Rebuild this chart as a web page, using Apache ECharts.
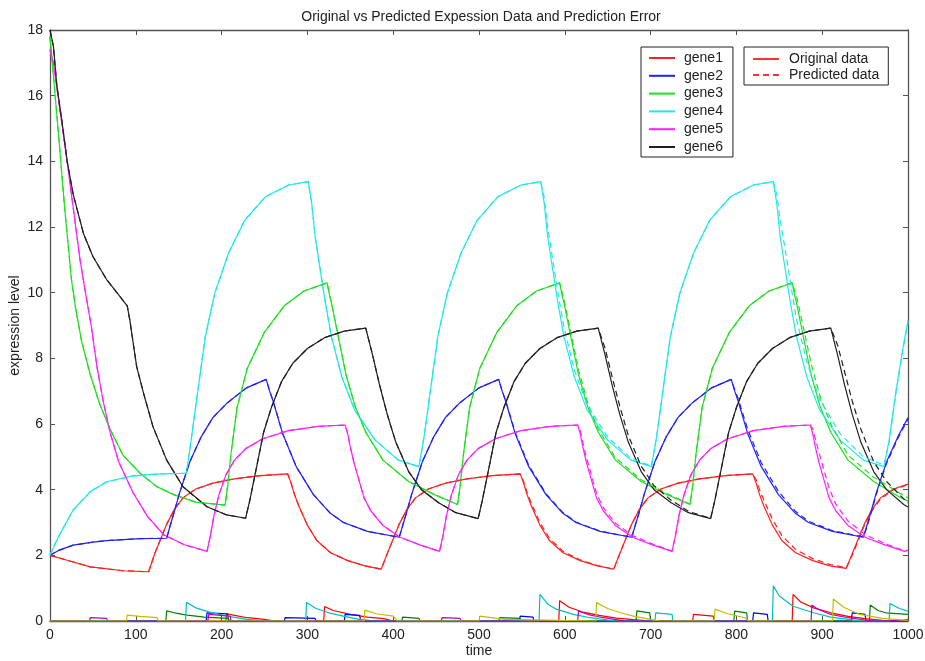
<!DOCTYPE html>
<html>
<head>
<meta charset="utf-8">
<script src="https://cdn.jsdelivr.net/npm/echarts@6/dist/echarts.min.js"></script>
<style>
html,body{margin:0;padding:0;background:#fff;}
#chart{width:925px;height:661px;}
</style>
</head>
<body>
<div id="chart"></div>
<script>
// ---------- data ----------
const xTicks = [0,100,200,300,400,500,600,700,800,900,1000];
const yTicks = [0,2,4,6,8,10,12,14,16,18];
const geneNames = ['gene1','gene2','gene3','gene4','gene5','gene6'];

// gene1 (red)
const g1T = [0,20,47,85,115, 122,129,136,145,155,170,190,215,245,277, 281,285,290,300,311,327,347,367,386, 393,400,407,416,426,441,461,486,516,548, 552,556,561,571,582,598,618,638,657, 664,671,678,687,697,712,732,757,787,819, 823,827,832,842,853,869,889,909,928, 935,942,949,958,968,983,1000];
const g1Orig = [2.0,1.85,1.65,1.53,1.5, 2.05,2.5,2.95,3.4,3.75,4.02,4.2,4.33,4.43,4.48, 4.2,3.85,3.5,2.92,2.45,2.08,1.84,1.68,1.58, 2.05,2.5,2.95,3.4,3.75,4.02,4.2,4.33,4.43,4.48, 4.2,3.85,3.5,2.92,2.45,2.08,1.84,1.68,1.58, 2.05,2.5,2.95,3.4,3.75,4.02,4.2,4.33,4.43,4.48, 4.2,3.85,3.5,2.92,2.45,2.08,1.84,1.68,1.6, 2.05,2.5,2.95,3.4,3.75,4.02,4.17];
const g1Pred = [2.0,1.85,1.65,1.53,1.5, 2.05,2.5,2.95,3.4,3.75,4.02,4.2,4.33,4.43,4.48, 4.2,3.85,3.5,2.92,2.45,2.08,1.84,1.68,1.58, 2.05,2.5,2.95,3.4,3.75,4.02,4.2,4.33,4.43,4.48, 4.25,3.92,3.58,3.0,2.52,2.12,1.86,1.69,1.58, 2.05,2.5,2.95,3.4,3.75,4.02,4.2,4.33,4.43,4.48, 4.3,4.0,3.68,3.1,2.6,2.18,1.9,1.72,1.62, 2.0,2.45,2.9,3.35,3.72,4.0,4.15];

// gene2 (blue)
const g2T = [0,10,27,50,66,105,136, 140,144,151,163,176,190,206,229,252, 256,260,271,287,307,326,342,370,407, 411,415,422,434,447,461,477,500,523, 527,531,542,558,578,597,613,641,678, 682,686,693,705,718,732,748,771,794, 798,802,813,829,849,868,884,912,948, 952,956,963,975,988,1000];
const g2Orig = [2.0,2.15,2.31,2.4,2.45,2.51,2.52, 2.9,3.25,3.9,4.85,5.6,6.2,6.63,7.1,7.36, 7.0,6.7,5.72,4.7,3.85,3.3,3.0,2.73,2.55, 2.9,3.25,3.9,4.85,5.6,6.2,6.63,7.1,7.36, 7.0,6.7,5.72,4.7,3.85,3.3,3.0,2.73,2.55, 2.9,3.25,3.9,4.85,5.6,6.2,6.63,7.1,7.36, 7.0,6.7,5.72,4.7,3.85,3.3,3.0,2.73,2.55, 2.9,3.25,3.9,4.85,5.6,6.2];
const g2Pred = [2.0,2.15,2.31,2.4,2.45,2.51,2.52, 2.9,3.25,3.9,4.85,5.6,6.2,6.63,7.1,7.36, 7.0,6.7,5.72,4.7,3.85,3.3,3.0,2.73,2.55, 2.9,3.25,3.9,4.85,5.6,6.2,6.63,7.1,7.36, 7.0,6.72,5.76,4.74,3.88,3.32,3.01,2.74,2.55, 2.9,3.25,3.9,4.85,5.6,6.2,6.63,7.1,7.36, 7.05,6.78,5.85,4.82,3.95,3.36,3.04,2.75,2.56, 2.85,3.2,3.85,4.8,5.55,6.15];

// gene3 (green)
const g3T = [0,5,10,17,25,30,37,47,58,70,85,105,124,144,170,204, 207,211,218,230,250,273,296,323, 326,328,336,345,356,368,388,418,448,475, 478,482,489,501,521,544,567,594, 597,599,607,616,627,639,659,689,719,746, 749,753,760,772,792,815,838,865, 868,870,878,887,898,910,930,960,990,1000];
const g3Orig = [17.8,16.3,14.8,12.6,10.4,9.5,8.5,7.5,6.6,5.85,5.05,4.5,4.1,3.85,3.62,3.53, 4.1,5.1,6.5,7.7,8.8,9.6,10.05,10.3, 9.9,9.7,8.66,7.5,6.5,5.75,4.9,4.25,3.85,3.55, 4.1,5.1,6.5,7.7,8.8,9.6,10.05,10.3, 9.9,9.7,8.66,7.5,6.5,5.75,4.9,4.25,3.85,3.55, 4.1,5.1,6.5,7.7,8.8,9.6,10.05,10.3, 9.9,9.7,8.66,7.5,6.5,5.75,4.9,4.25,3.78,3.65];
const g3Pred = [17.8,16.3,14.8,12.6,10.4,9.5,8.5,7.5,6.6,5.85,5.05,4.5,4.1,3.85,3.62,3.53, 4.1,5.1,6.5,7.7,8.8,9.6,10.05,10.3, 9.9,9.7,8.66,7.5,6.5,5.75,4.9,4.25,3.85,3.55, 4.1,5.1,6.5,7.7,8.8,9.6,10.05,10.3, 10.0,9.8,8.8,7.65,6.62,5.85,4.97,4.3,3.88,3.56, 4.1,5.1,6.5,7.7,8.8,9.6,10.05,10.3, 10.05,9.9,8.95,7.85,6.8,6.0,5.05,4.38,3.9,3.75];

// gene4 (cyan)
const g4T = [0,6,12,27,47,66,97,128,159, 165,173,181,192,208,227,251,278,301, 305,309,315,321,328,340,355,379,406,430, 436,444,452,463,479,498,522,549,572, 576,580,586,592,599,611,626,650,677,701, 707,715,723,734,750,769,793,820,843, 847,851,857,863,870,882,897,921,948,972, 978,986,994,1000];
const g4Orig = [2.0,2.35,2.67,3.38,3.94,4.24,4.42,4.48,4.5, 5.61,7.14,8.66,9.98,11.2,12.21,12.92,13.28,13.38, 12.73,11.71,10.69,9.68,8.66,7.44,6.43,5.51,4.9,4.7, 5.61,7.14,8.66,9.98,11.2,12.21,12.92,13.28,13.38, 12.73,11.71,10.69,9.68,8.66,7.44,6.43,5.51,4.9,4.7, 5.61,7.14,8.66,9.98,11.2,12.21,12.92,13.28,13.38, 12.73,11.71,10.69,9.68,8.66,7.44,6.43,5.51,4.9,4.7, 5.5,7.0,8.3,9.15];
const g4Pred = [2.0,2.35,2.67,3.38,3.94,4.24,4.42,4.48,4.5, 5.61,7.14,8.66,9.98,11.2,12.21,12.92,13.28,13.38, 12.73,11.71,10.69,9.68,8.66,7.44,6.43,5.51,4.9,4.7, 5.61,7.14,8.66,9.98,11.2,12.21,12.92,13.28,13.38, 12.9,12.0,11.0,10.0,8.95,7.65,6.58,5.6,4.95,4.72, 5.61,7.14,8.66,9.98,11.2,12.21,12.92,13.28,13.38, 13.0,12.2,11.3,10.3,9.2,7.9,6.75,5.7,5.0,4.75, 5.45,6.95,8.25,9.1];

// gene5 (magenta)
const g5T = [0,4,12,20,27,35,42,48,55,62,70,80,97,114,133,156,183, 187,191,197,205,215,228,248,278,313,344, 347,350,354,360,366,374,388,408,431,454, 458,462,468,476,486,499,519,549,584,615, 618,621,625,631,637,645,659,679,702,725, 729,733,739,747,757,770,790,820,855,886, 889,892,896,902,908,916,930,950,973,996, 1000];
const g5Orig = [17.4,17.0,15.5,14.0,12.6,11.0,9.9,9.0,7.7,6.7,5.75,4.85,3.9,3.17,2.62,2.33,2.12, 2.6,3.2,3.85,4.45,4.9,5.25,5.55,5.8,5.93,5.97, 5.7,5.3,4.85,4.3,3.75,3.35,2.91,2.55,2.32,2.12, 2.6,3.2,3.85,4.45,4.9,5.25,5.55,5.8,5.93,5.97, 5.7,5.3,4.85,4.3,3.75,3.35,2.91,2.55,2.32,2.12, 2.6,3.2,3.85,4.45,4.9,5.25,5.55,5.8,5.93,5.97, 5.7,5.3,4.85,4.3,3.75,3.35,2.91,2.55,2.32,2.12, 2.15];
const g5Pred = [17.4,17.0,15.5,14.0,12.6,11.0,9.9,9.0,7.7,6.7,5.75,4.85,3.9,3.17,2.62,2.33,2.12, 2.6,3.2,3.85,4.45,4.9,5.25,5.55,5.8,5.93,5.97, 5.7,5.3,4.85,4.3,3.75,3.35,2.91,2.55,2.32,2.12, 2.6,3.2,3.85,4.45,4.9,5.25,5.55,5.8,5.93,5.97, 5.8,5.45,5.0,4.45,3.88,3.45,2.98,2.6,2.35,2.13, 2.6,3.2,3.85,4.45,4.9,5.25,5.55,5.8,5.93,5.97, 5.85,5.55,5.15,4.6,4.05,3.55,3.05,2.63,2.36,2.14, 2.16];

// gene6 (black)
const g6T = [0,4,8,14,20,27,39,50,66,78,90,93,101,109,120,136,155,183,206,228, 233,241,249,258,270,283,300,320,343,368, 376,384,393,403,418,433,453,473,499, 504,512,520,529,541,554,571,591,614,639, 647,655,664,674,689,704,724,744,770, 775,783,791,800,812,825,842,862,885,910, 918,926,935,945,960,975,995,1000];
const g6Orig = [18.0,17.5,16.3,15.2,14.0,13.0,11.8,11.1,10.4,10.0,9.6,9.17,7.75,6.94,5.92,4.9,4.09,3.48,3.23,3.13, 3.69,4.72,5.75,6.5,7.3,7.85,8.3,8.63,8.83,8.92, 8.1,7.2,6.3,5.45,4.55,4.0,3.6,3.3,3.12, 3.69,4.72,5.75,6.5,7.3,7.85,8.3,8.63,8.83,8.92, 8.1,7.2,6.3,5.45,4.55,4.0,3.6,3.3,3.12, 3.69,4.72,5.75,6.5,7.3,7.85,8.3,8.63,8.83,8.92, 8.1,7.2,6.3,5.45,4.55,4.0,3.55,3.47];
const g6Pred = [18.0,17.5,16.3,15.2,14.0,13.0,11.8,11.1,10.4,10.0,9.6,9.17,7.75,6.94,5.92,4.9,4.09,3.48,3.23,3.13, 3.69,4.72,5.75,6.5,7.3,7.85,8.3,8.63,8.83,8.92, 8.1,7.2,6.3,5.45,4.55,4.0,3.6,3.3,3.12, 3.69,4.72,5.75,6.5,7.3,7.85,8.3,8.63,8.83,8.92, 8.3,7.45,6.55,5.65,4.72,4.12,3.68,3.34,3.13, 3.69,4.72,5.75,6.5,7.3,7.85,8.3,8.63,8.83,8.92, 8.4,7.6,6.7,5.85,4.85,4.25,3.72,3.6];

// prediction error curves (bottom of the plot)
const err1 = [[0,0],[205,0],[206,0.22],[215,0.17],[230,0.1],[250,0.05],[262,0],[319,0],[320,0.44],[330,0.32],[350,0.2],[370,0.12],[389,0.07],[400,0],[593,0],[594,0.62],[605,0.42],[620,0.28],[640,0.17],[660,0.09],[680,0.04],[700,0],[749,0],[750,0.2],[773,0.15],[774,0],[865,0],[866,0.81],[875,0.58],[890,0.4],[910,0.25],[930,0.14],[950,0.07],[970,0.02],[1000,0]];
const err2 = [[0,0],[182,0],[183,0.25],[207,0.22],[208,0],[273,0],[274,0.1],[309,0.08],[310,0],[343,0],[344,0.2],[361,0.17],[362,0],[547,0],[548,0.15],[563,0.12],[564,0],[819,0],[820,0.25],[836,0.2],[837,0],[934,0],[935,0.25],[950,0.2],[951,0],[1000,0]];
const err3 = [[0,0],[135,0],[136,0.31],[145,0.25],[160,0.18],[180,0.12],[208,0.08],[209,0],[410,0],[411,0.12],[430,0.08],[431,0],[523,0],[524,0.1],[548,0.08],[549,0],[683,0],[684,0.31],[699,0.25],[700,0],[797,0],[798,0.3],[812,0.25],[813,0],[955,0],[956,0.49],[965,0.32],[974,0.25],[1000,0.2]];
const err4 = [[0,0],[158,0],[159,0.57],[170,0.4],[185,0.28],[206,0.15],[230,0.05],[250,0],[298,0],[299,0.56],[310,0.38],[325,0.25],[342,0.15],[360,0.05],[380,0],[570,0],[571,0.81],[580,0.52],[590,0.36],[610,0.2],[630,0.1],[650,0.03],[660,0],[705,0],[706,0.25],[725,0.2],[726,0],[842,0],[843,1.07],[850,0.76],[866,0.45],[890,0.25],[910,0.12],[930,0.05],[945,0],[978,0],[979,0.53],[990,0.38],[1000,0.3]];
const err5 = [[0,0],[46,0],[47,0.1],[66,0.08],[67,0],[184,0],[185,0.2],[210,0.15],[211,0],[456,0],[457,0.1],[478,0.08],[479,0],[615,0],[616,0.3],[630,0.18],[645,0.1],[660,0.04],[670,0],[887,0],[888,0.49],[895,0.36],[910,0.2],[930,0.1],[950,0.03],[960,0],[990,0],[991,0.05],[1000,0.05]];
const err6 = [[0,0],[89,0],[90,0.18],[105,0.14],[125,0.1],[126,0],[366,0],[367,0.33],[380,0.22],[400,0.15],[405,0],[500,0],[501,0.15],[530,0.05],[531,0],[636,0],[637,0.56],[650,0.38],[665,0.25],[680,0.15],[700,0.05],[710,0],[774,0],[775,0.36],[790,0.22],[810,0.1],[815,0],[912,0],[913,0.67],[925,0.42],[944,0.2],[970,0.08],[1000,0.02]];

// ---------- styling ----------
const geneColors = ['#ff2020','#2020ff','#20e020','#20e8e8','#ff20ff','#202020'];
const errColors = ['#ff0000','#0000ff','#008000','#00bfbf','#bf00bf','#bfbf00'];
const FONT = "'Liberation Sans', Arial, sans-serif";

function zip(T, V){ return T.map((t,i)=>[t, V[i]]); }

const geneT = [g1T,g2T,g3T,g4T,g5T,g6T];
const geneO = [g1Orig,g2Orig,g3Orig,g4Orig,g5Orig,g6Orig];
const geneP = [g1Pred,g2Pred,g3Pred,g4Pred,g5Pred,g6Pred];
const errs = [err1,err2,err3,err4,err5,err6];

const series = [];
for (let i=0;i<6;i++){
  series.push({type:'line', name:geneNames[i], data:zip(geneT[i],geneO[i]), symbol:'none',
    lineStyle:{color:geneColors[i], width:1.2}, itemStyle:{color:geneColors[i]}, z:2});
}
for (let i=0;i<6;i++){
  series.push({type:'line', name:geneNames[i]+' predicted', data:zip(geneT[i],geneP[i]), symbol:'none',
    lineStyle:{color:geneColors[i], width:1.2, type:[6,4]}, itemStyle:{color:geneColors[i]}, z:3});
}
for (let i=0;i<6;i++){
  series.push({type:'line', name:'error'+(i+1), data:errs[i], symbol:'none',
    lineStyle:{color:errColors[i], width:1.2}, itemStyle:{color:errColors[i]}, z:4});
}
series.push({type:'line', name:'Original data', data:[], symbol:'none', lineStyle:{color:'#ff3030', width:1.2}, itemStyle:{color:'#ff3030'}});
series.push({type:'line', name:'Predicted data', data:[], symbol:'none', lineStyle:{color:'#ff3030', width:1.2, type:[6,4]}, itemStyle:{color:'#ff3030'}});

const axisLine = {show:true, onZero:false, lineStyle:{color:'#555', width:1.3}};
const axisTick = {show:true, inside:true, length:5, lineStyle:{color:'#555'}};
const labelStyle = {color:'#222', fontFamily:FONT, fontSize:14};

const option = {
  animation:false,
  backgroundColor:'#ffffff',
  title:{text:'Original vs Predicted Expession Data and Prediction Error', left:476, textAlign:'center', top:5,
    textStyle:{fontFamily:FONT, fontSize:14, fontWeight:'normal', color:'#222'}},
  grid:{left:50, right:17, top:30, bottom:40, containLabel:false, outerBoundsMode:'none'},
  legend:[
    {data:geneNames, orient:'vertical', left:641, top:47, itemWidth:26, itemHeight:14, itemGap:3.8,
     padding:[4,10,3,7], borderColor:'#222', borderWidth:1, backgroundColor:'#fff',
     itemStyle:{opacity:0},
     textStyle:{fontFamily:FONT, fontSize:14, color:'#222', padding:[0,0,0,4]}, selectedMode:false},
    {data:['Original data','Predicted data'], orient:'vertical', left:744, top:47, itemWidth:26, itemHeight:14, itemGap:2,
     padding:[5,9,3,8], borderColor:'#222', borderWidth:1, backgroundColor:'#fff',
     itemStyle:{opacity:0},
     textStyle:{fontFamily:FONT, fontSize:14, color:'#222', padding:[0,0,0,5]}, selectedMode:false}
  ],
  xAxis:[
    {type:'value', min:0, max:1000, interval:100, position:'bottom', axisLine, axisTick,
     axisLabel:Object.assign({margin:7, formatter:(v)=>String(v)}, labelStyle), splitLine:{show:false},
     name:'time', nameLocation:'middle', nameGap:23, nameMoveOverlap:false,
     nameTextStyle:{fontFamily:FONT, fontSize:14, color:'#222'}},
    {type:'value', min:0, max:1000, interval:100, position:'top', axisLine, axisTick,
     axisLabel:{show:false}, splitLine:{show:false}}
  ],
  yAxis:[
    {type:'value', min:0, max:18, interval:2, position:'left', axisLine, axisTick,
     axisLabel:Object.assign({margin:7, formatter:(v)=>String(v)}, labelStyle), splitLine:{show:false},
     name:'expression level', nameLocation:'middle', nameGap:28, nameMoveOverlap:false,
     nameTextStyle:{fontFamily:FONT, fontSize:14, color:'#222'}},
    {type:'value', min:0, max:18, interval:2, position:'right', axisLine, axisTick,
     axisLabel:{show:false}, splitLine:{show:false}}
  ],
  series
};

const chart = echarts.init(document.getElementById('chart'), null, {renderer:'canvas'});
chart.setOption(option);
</script>
</body>
</html>
